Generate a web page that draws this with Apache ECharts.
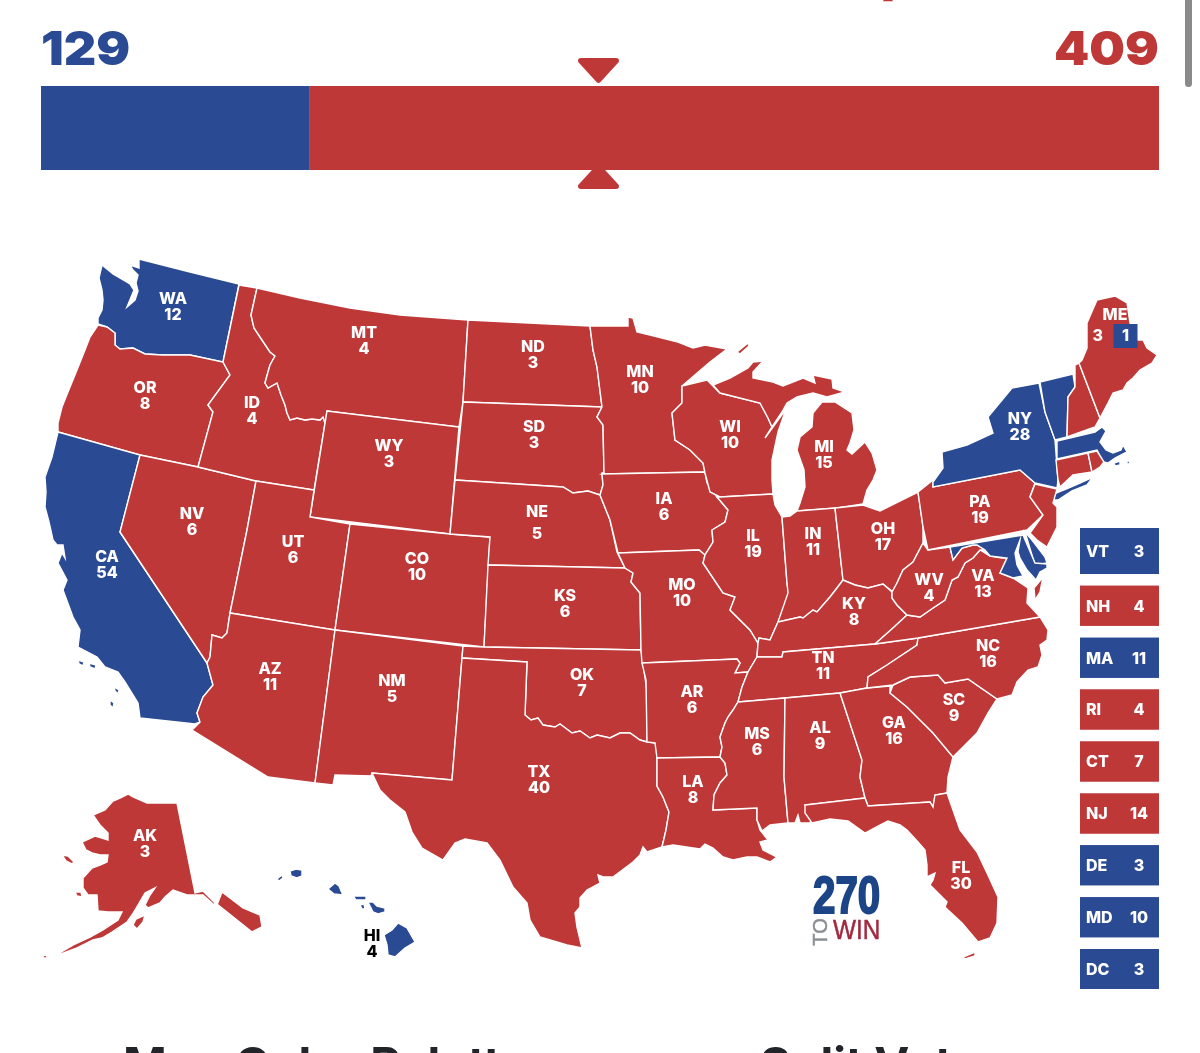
<!DOCTYPE html>
<html><head><meta charset="utf-8">
<style>html,body{margin:0;padding:0;background:#fff;overflow:hidden}#c{width:1200px;height:1053px}</style>
<script src="https://cdn.jsdelivr.net/npm/echarts@6/dist/echarts.min.js"></script>
</head><body><div id="c"></div>
<script>
const BLUE='#2b4a94', RED='#bf3838';
const totalVotes=538, demVotes=129, repVotes=409, midpoint=269;
const stateCodes=['WA','OR','CA','NV','ID','MT','WY','UT','CO','AZ','NM','ND','SD','NE','KS','OK','TX','MN','IA','MO','AR','LA','WI','IL','MI','IN','OH','KY','TN','MS','AL','GA','FL','SC','NC','VA','WV','PA','NY','ME','AK','HI','VT','NH','MA','RI','CT','NJ','DE','MD'];
const stateVotes=[12,8,54,6,4,4,3,6,10,11,5,3,3,5,6,7,40,10,6,10,6,8,10,19,15,11,17,8,11,6,9,16,30,9,16,13,4,19,28,4,3,4,3,4,11,4,7,14,3,10];
const blueStates=['WA','CA','NY','HI','VT','MA','DE','MD'];
const legendCodes=['VT','NH','MA','RI','CT','NJ','DE','MD','DC'];
const legendVotes=[3,4,11,4,7,14,3,10,3];
const legendParty=['D','R','D','R','R','R','D','D','D'];

// Shared wiggly borders (picture-space units)
const rev=s=>s.split(' ').reverse().join(' ');
const idMt="251,315 254,328 262,340 270,352 275,356 270,365 268,372 265,383 268,388 277,383 281,395 285,405 287,413 290,420 297,418 305,420 312,419 320,420 323,417 325,423";
const redRiver="525,715 531,720 538,718 543,725 555,727 560,724 572,733 580,731 590,738 597,735 610,738 620,733 630,733 640,740 647,742";
const arMs="748,672 742,687 738,702 733,710 728,717 725,723 720,737 722,747 720,757";
const msLa="720,757 725,763 727,775 720,783 714,795 713,810";
const ohioRiver="770,640 778,622 800,617 803,618 813,610 817,612 830,597 837,588 843,580 855,585 868,588 883,584 892,592";

// State outlines, each: label anchor + rings
const stateShapes={
WA:[[173,306],"139,259 190,272 239,284 223,362 190,355 163,355 145,354 133,348 120,349 115,345 115,333 107,327 98,324 98,318 102,310 103,300 102,290 99,278 102,265 113,274 130,284 134,290 127,307 135,300 138,291 136,283 138,275 133,270 130,265 139,268"],
OR:[[145,395],"98,325 107,327 115,333 115,345 120,349 133,348 145,354 163,355 190,355 223,362 230,375 208,405 213,412 198,467 140,455 58,432 58,423 62,407 68,392 77,370 85,350 90,337"],
CA:[[107,564],"58,432 140,455 120,532 207,663 213,685 203,697 197,713 200,722 195,724 140,718 138,703 125,682 118,672 105,667 97,657 78,647 80,630 73,617 63,590 67,580 58,563 62,553 65,558 63,545 57,545 53,540 49,522 45,507 46,492 45,477 52,457","78,660 84,662 83,666 79,664","89,663 96,665 95,669 90,667","114,687 119,690 118,694 115,691","110,700 114,703 113,708 110,705"],
NV:[[192,521],"140,455 198,467 256,481 247,530 230,613 227,633 222,638 212,635 210,657 207,663 120,532"],
ID:[[252,410],`239,285 257,288 ${idMt} 314,490 256,481 198,467 213,412 208,405 230,375 223,362`],
MT:[[364,340],`257,288 300,298 350,308 400,315 468,320 463,402 459,427 327,411 ${rev(idMt)}`],
WY:[[389,453],"327,411 459,427 450,534 310,517"],
UT:[[293,549],"256,481 314,490 310,517 350,524 335,630 230,613 247,530"],
CO:[[417,566],"350,524 450,534 490,537 484,647 335,630"],
AZ:[[270,676],"230,613 335,630 315,783 268,777 192,730 200,722 197,713 203,697 213,685 207,663 210,657 212,635 222,638 227,633"],
NM:[[392,688],"335,630 463,646 452,780 372,773 371,776 335,775 333,785 315,783"],
ND:[[533,354],"468,320 590,326 593,350 597,367 602,407 463,402"],
SD:[[534,434],"463,402 602,407 597,417 603,425 604,473 602,473 603,485 600,495 588,491 573,493 563,487 455,480"],
NE:[[537,522],"455,480 563,487 573,493 588,491 600,495 602,500 610,520 617,552 625,568 488,565 490,537 450,534"],
KS:[[565,603],"488,565 625,568 633,573 631,582 640,593 641,650 484,647"],
OK:[[582,682],`463,646 484,647 641,650 643,663 647,692 ${rev(redRiver)} 527,662 462,658`],
TX:[[539,779],`462,658 527,662 ${redRiver} 657,743 657,786 663,797 669,812 666,830 662,847 647,852 643,847 640,855 633,862 613,877 603,877 598,875 600,883 587,890 580,898 580,907 575,913 577,927 582,948 567,945 540,937 530,920 527,903 513,887 500,860 487,843 465,839 455,843 443,860 422,848 412,832 405,812 390,800 380,790 372,773 452,780`],
MN:[[640,379],"590,326 628,326 628,317 633,318 637,332 650,335 678,342 693,348 705,345 727,349 710,362 682,386 682,403 672,413 675,440 690,450 703,463 705,472 602,474 604,473 603,425 597,417 602,407 597,367 593,350"],
IA:[[664,506],"602,474 705,472 707,483 717,497 728,510 725,522 712,530 713,542 705,555 699,550 618,553 610,520 602,500 600,495 603,485"],
MO:[[682,592],"618,553 699,550 705,555 703,563 723,593 735,597 730,610 750,630 758,643 757,657 748,672 735,673 740,663 737,659 642,663 641,650 640,593 631,582 633,573 625,568"],
AR:[[692,699],`642,663 737,659 740,663 735,673 ${arMs} 657,758 655,743 647,742 646,680`],
LA:[[693,789],`657,758 ${msLa} 757,808 757,820 760,830 768,840 760,842 763,850 777,857 770,862 757,857 747,857 733,860 723,857 713,848 705,844 700,849 673,845 662,847 666,830 669,812 663,797 657,786`],
WI:[[730,434],"682,386 707,380 712,385 720,393 760,403 768,418 772,427 765,438 786,409 778,432 772,460 772,480 773,494 720,497 710,492 705,473 703,463 690,450 675,440 672,413 682,403"],
IL:[[753,543],"720,497 773,494 775,505 782,517 787,583 789,595 778,622 770,640 759,638 758,643 750,630 730,610 735,597 723,593 703,563 705,555 713,542 712,530 725,522 728,510 717,497"],
MI:[[824,454],"713,385 730,378 748,368 753,362 763,361 753,372 753,378 773,382 783,386 803,378 815,383 813,375 832,379 833,388 845,392 827,397 813,393 797,397 787,403 782,412 772,427 768,418 760,403 720,393","822,402 835,402 852,413 854,430 850,443 847,450 852,454 865,442 872,453 877,470 873,480 867,490 863,504 837,508 797,511 800,503 805,487 804,470 797,450 800,437 812,427 813,413","737,352 748,343 749,346 740,354"],
IN:[[813,541],"782,517 790,516 797,511 835,508 843,580 837,588 830,597 817,612 813,610 803,618 800,617 778,622 788,593 787,583"],
OH:[[883,536],"835,508 863,505 880,511 918,492 923,527 923,543 913,562 903,570 897,583 893,592 892,592 883,584 868,588 855,585 843,580"],
KY:[[854,611],`757,657 758,643 759,638 ${ohioRiver} 892,598 897,605 907,615 893,628 875,644 783,652 782,657`],
TN:[[823,665],"757,657 782,657 783,652 875,644 918,638 917,645 887,665 868,677 867,688 840,693 785,698 738,702 742,687 748,672"],
MS:[[757,741],`738,702 785,698 784,777 788,823 770,825 762,831 757,820 757,808 ${rev(msLa)} 722,747 720,737 725,723 728,717 733,710`],
AL:[[820,735],"785,698 840,693 862,760 860,777 865,798 805,805 812,817 810,823 800,823 798,815 795,823 788,823 784,777"],
GA:[[894,730],"840,693 867,688 890,686 890,693 907,707 933,733 953,757 948,777 947,793 935,795 933,807 930,802 868,806 865,798 860,777 862,760"],
FL:[[961,875],"805,805 865,798 868,806 930,802 933,807 935,795 947,793 960,830 977,852 987,873 998,897 997,923 990,938 978,942 962,923 948,910 945,907 947,902 930,885 933,880 935,873 927,877 927,865 925,850 918,842 907,830 900,825 888,821 878,826 865,833 848,821 830,819 812,823 805,813","963,957 975,952 975,956 965,959"],
SC:[[954,707],"893,685 910,677 938,675 945,683 968,679 997,699 988,713 977,733 953,757 933,733 907,707 890,693"],
NC:[[988,653],"918,638 1040,617 1048,630 1047,640 1040,645 1042,655 1038,667 1028,670 1017,682 1012,695 997,699 968,679 945,683 938,675 910,677 893,685 867,688 868,677 887,665 917,645"],
VA:[[983,583],"907,615 920,617 933,608 945,600 952,580 958,577 965,563 973,558 980,550 990,556 1002,558 1007,558 1000,573 1013,578 1028,588 1027,603 1040,617 918,638 875,644 893,628","1035,600 1034,588 1043,577 1040,592"],
WV:[[929,587],"928,550 950,547 953,560 962,548 973,545 977,545 985,550 980,550 973,558 965,563 958,577 952,580 945,600 933,608 920,617 907,615 897,605 892,598 892,592 893,592 897,583 903,570 913,562 923,543"],
PA:[[980,509],"918,492 933,480 933,487 1020,470 1035,483 1030,497 1043,515 1027,530 928,550 923,527"],
NY:[[1020,426],"933,487 933,482 943,468 942,452 967,445 993,433 988,417 1012,388 1039,383 1045,412 1055,440 1058,480 1057,488 1035,483 1020,470","1052,500 1056,493 1066,489 1080,483 1093,477 1087,485 1072,491 1058,500"],
NJ:[[1300,1300],"1035,484 1057,489 1053,503 1057,507 1057,527 1047,547 1037,540 1030,533 1043,515 1030,497"],
DE:[[1300,1300],"1025,532 1032,540 1045,557 1047,563 1035,565"],
MD:[[1300,1300],"950,547 1023,535 1035,563 1047,564 1047,568 1040,572 1036,580 1027,570 1020,558 1018,552 1020,540 1015,553 1017,565 1023,576 1013,578 1000,573 1007,558 990,556 985,550 977,545 973,545 962,548 953,560"],
VT:[[1300,1300],"1040,382 1073,374 1075,387 1068,397 1067,437 1055,440 1045,412"],
NH:[[1300,1300],"1075,365 1079,363 1100,418 1095,427 1067,437 1068,397 1075,387"],
ME:[[1115,326],"1079,363 1082,360 1087,348 1087,323 1097,300 1115,296 1127,303 1130,323 1138,340 1143,340 1147,348 1157,355 1152,363 1140,370 1133,378 1127,383 1123,390 1113,393 1108,403 1100,418"],
MA:[[1300,1300],"1057,441 1095,432 1102,427 1106,431 1100,442 1106,450 1113,453 1121,450 1123,445 1127,452 1115,458 1108,463 1103,462 1097,450 1057,459","1114,463 1120,461 1120,465 1115,466","1127,461 1130,461 1129,464 1127,464"],
CT:[[1300,1300],"1056,460 1088,453 1092,472 1073,475 1060,487 1058,480"],
RI:[[1300,1300],"1088,453 1097,451 1104,462 1100,467 1092,472"],
AK:[[145,843],"128,794 133,797 147,803 163,803 177,803 195,893 203,891 217,905 222,892 243,908 260,915 262,927 252,932 237,920 218,905 213,904 203,895 187,895 173,890 165,897 160,903 148,908 145,905 150,895 155,888 145,893 138,905 132,915 127,922 112,932 102,938 93,940 77,948 53,957 75,944 90,937 103,930 118,920 122,912 108,912 98,911 97,895 88,895 83,888 83,878 92,868 100,865 107,862 108,855 100,855 92,853 86,850 82,842 95,836 102,838 108,840 108,833 100,825 93,815 105,810 113,801 120,798","62,855 68,856 74,862 72,864 66,861","75,892 81,892 82,897 77,896","133,925 136,919 145,915 143,922 137,929","42,956 46,955 48,958 44,958"],
HI:[[372,943],"290,871 296,869 302,870 302,876 297,878 291,876","277,879 282,875 283,878 279,881","328,889 335,883 339,886 342,893 343,895 334,894","353,896 366,896 366,900 356,900","368,902 373,902 377,906 385,908 385,912 378,914 373,912","360,905 364,904 365,909 362,909","398,923 407,928 415,942 405,948 395,957 388,955 387,945 384,935 392,930"]
};

const toRing=s=>{const r=s.trim().split(/\s+/).map(p=>p.split(',').map(Number));r.push(r[0]);return [r];};
const usaGeo={type:'FeatureCollection',features:Object.keys(stateShapes).map(k=>{
  const [cp,...rings]=stateShapes[k];
  return {type:'Feature',properties:{name:k,cp},geometry:{type:'MultiPolygon',coordinates:rings.map(toRing)}};
})};
echarts.registerMap('usa',usaGeo);

const FONT='Inter';
const labelBase={fontFamily:FONT,fontWeight:800,fontSize:16,color:'#fff',lineHeight:16};
const unlabeled=new Set(['VT','NH','MA','RI','CT','NJ','DE','MD']);
const mapData=stateCodes.map((code,i)=>{
  const item={name:code,value:stateVotes[i],itemStyle:{areaColor:blueStates.includes(code)?BLUE:RED}};
  if(unlabeled.has(code)) item.label={show:false};
  if(code==='NE') item.label={lineHeight:22};
  if(code==='HI') item.label={color:'#000'};
  if(code==='ME') item.label={formatter:'{t|ME}\n{n|3}   {box|1}',rich:{
    t:{...labelBase,lineHeight:18},n:{...labelBase,lineHeight:24},
    box:{...labelBase,backgroundColor:BLUE,width:24,height:24,lineHeight:24,align:'center'}}};
  return item;
});

const triPath='path://M3 0H38Q42 0 41 4L22.5 24Q20.5 26 18.5 24L0 4Q-1 0 3 0Z';
const bigText=(text,x,y,fill,align,font,extra)=>({type:'text',x,y,silent:true,...(extra||{}),style:{text,fill,align,verticalAlign:'middle',font}});
const heavy=`900 47px ${FONT}`, head=`700 47px ${FONT}`;

const chart=echarts.init(document.getElementById('c'),null,{renderer:'canvas'});
chart.setOption({
  animation:false,backgroundColor:'#fff',
  grid:[{left:41,top:86,width:1118,height:84},{left:1080,top:528,width:79,height:467}],
  xAxis:[{gridIndex:0,type:'value',min:0,max:totalVotes,show:false},{gridIndex:1,type:'value',min:0,max:1,show:false}],
  yAxis:[{gridIndex:0,type:'category',data:['EV'],show:false},{gridIndex:1,type:'category',data:legendCodes,inverse:true,show:false}],
  series:[
    {type:'bar',xAxisIndex:0,yAxisIndex:0,stack:'ev',barWidth:'100%',data:[demVotes],itemStyle:{color:BLUE},silent:true},
    {type:'bar',xAxisIndex:0,yAxisIndex:0,stack:'ev',barWidth:'100%',data:[repVotes],itemStyle:{color:RED},silent:true},
    {type:'scatter',xAxisIndex:0,yAxisIndex:0,data:[[midpoint,'EV']],symbol:triPath,symbolSize:[41,25],symbolOffset:[-1.5,-57.5],itemStyle:{color:RED,opacity:1},silent:true,z:1},
    {type:'scatter',xAxisIndex:0,yAxisIndex:0,data:[[midpoint,'EV']],symbol:triPath,symbolSize:[41,25],symbolRotate:180,symbolOffset:[-1.5,48.5],itemStyle:{color:RED,opacity:1},silent:true,z:1},
    {type:'bar',xAxisIndex:1,yAxisIndex:1,barWidth:40,barGap:'-100%',silent:true,
      data:legendCodes.map((c,i)=>({value:1,itemStyle:{color:legendParty[i]==='D'?BLUE:RED},label:{offset:[0,i===0?-2:1]}})),
      label:{show:true,...labelBase,position:[6,'50%'],align:'left',verticalAlign:'middle',formatter:p=>legendCodes[p.dataIndex]}},
    {type:'bar',xAxisIndex:1,yAxisIndex:1,barWidth:40,barGap:'-100%',silent:true,
      data:legendCodes.map((c,i)=>({value:1,itemStyle:{color:legendParty[i]==='D'?BLUE:RED},label:{offset:[0,i===0?-2:1]}})),
      label:{show:true,...labelBase,position:[59,'50%'],align:'center',verticalAlign:'middle',formatter:p=>String(legendVotes[p.dataIndex])}},
    {type:'map',map:'usa',roam:false,silent:true,selectedMode:false,
      projection:{project:p=>[p[0],p[1]],unproject:p=>[p[0],p[1]]},
      left:42,top:259,width:1115,height:700,
      itemStyle:{borderColor:'#fff',borderWidth:1.4},
      label:{show:true,...labelBase,offset:[0,1],formatter:'{b}\n{c}'},
      emphasis:{disabled:true},
      data:mapData}
  ],
  graphic:[
    bigText(String(demVotes),41,51,BLUE,'left',heavy,{scaleX:1.07}),
    bigText(String(repVotes),1159,51,RED,'right',heavy,{scaleX:1.07}),
    bigText('p',881,-22,RED,'left',heavy),
    bigText('Map Color Palette',123,1067,'#212529','left',head),
    bigText('Split Votes',760,1067,'#212529','left',head),
    {type:'rect',shape:{x:1080,y:528,width:79,height:8},style:{fill:BLUE},silent:true},
    {type:'rect',shape:{x:1185,y:-8,width:7,height:95,r:3.5},style:{fill:'#8a8a8a'},silent:true},
    {type:'text',x:813,y:899,scaleX:.79,silent:true,style:{text:'270',fill:'#1c4587',stroke:'#1c4587',lineWidth:2,align:'left',verticalAlign:'middle',font:'bold 51px "Liberation Sans"'}},
    {type:'text',x:833,y:931,scaleX:.87,silent:true,style:{text:'WIN',fill:'#a3283f',stroke:'#a3283f',lineWidth:.5,align:'left',verticalAlign:'middle',font:'28px "Liberation Sans"'}},
    {type:'text',x:821,y:932,rotation:Math.PI/2,silent:true,style:{text:'TO',fill:'#8a8d91',stroke:'#8a8d91',lineWidth:.5,align:'center',verticalAlign:'middle',font:'20px "Liberation Sans"'}}
  ]
});
</script></body></html>
